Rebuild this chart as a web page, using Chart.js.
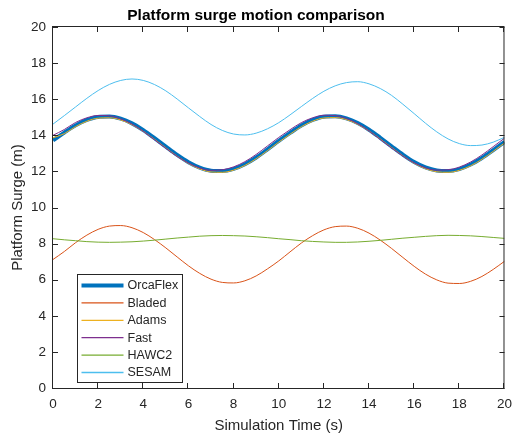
<!DOCTYPE html>
<html>
<head>
<meta charset="utf-8">
<title>Platform surge motion comparison</title>
<script src="https://cdn.jsdelivr.net/npm/chart.js@4.4.1/dist/chart.umd.min.js"></script>
<style>
    html, body { margin: 0; padding: 0; background: #fff; }
    #wrap { width: 520px; height: 439px; }
</style>
</head>
<body>
<div id="wrap"><canvas id="surgeChart" width="520" height="439"></canvas></div>
<script>
// simulation time (s)
const timeSteps = [0, 0.5, 1, 1.5, 2, 2.5, 3, 3.5, 4, 4.5, 5, 5.5, 6, 6.5, 7, 7.5, 8, 8.5, 9, 9.5,
    10, 10.5, 11, 11.5, 12, 12.5, 13, 13.5, 14, 14.5, 15, 15.5, 16, 16.5, 17, 17.5, 18, 18.5, 19, 19.5, 20];

// platform surge (m)
const orcaflexSurge = [13.72, 14.15, 14.55, 14.85, 15.02, 15.04, 14.92, 14.66, 14.29, 13.84, 13.37, 12.91, 12.51, 12.21, 12.04, 12.02, 12.14, 12.40, 12.77, 13.22,
    13.69, 14.13, 14.54, 14.85, 15.03, 15.05, 14.94, 14.68, 14.31, 13.86, 13.39, 12.93, 12.52, 12.22, 12.05, 12.02, 12.13, 12.38, 12.74, 13.18, 13.64];
const bladedSurge = [7.12, 7.56, 8.05, 8.47, 8.79, 8.97, 9.00, 8.88, 8.61, 8.22, 7.76, 7.26, 6.77, 6.35, 6.03, 5.85, 5.82, 5.94, 6.21, 6.60,
    7.04, 7.54, 8.03, 8.44, 8.76, 8.94, 8.97, 8.85, 8.58, 8.19, 7.73, 7.23, 6.74, 6.31, 5.99, 5.81, 5.79, 5.91, 6.18, 6.57, 7.02];
const adamsSurge = [13.86, 14.09, 14.48, 14.78, 14.95, 14.97, 14.85, 14.59, 14.22, 13.77, 13.30, 12.84, 12.44, 12.14, 11.97, 11.95, 12.07, 12.33, 12.70, 13.15,
    13.62, 14.06, 14.47, 14.78, 14.96, 14.98, 14.87, 14.61, 14.24, 13.79, 13.32, 12.86, 12.45, 12.15, 11.98, 11.95, 12.06, 12.31, 12.67, 13.11, 13.57];
const fastSurge = [14.00, 14.32, 14.71, 14.97, 15.10, 15.08, 14.91, 14.62, 14.22, 13.75, 13.28, 12.83, 12.46, 12.19, 12.06, 12.09, 12.25, 12.54, 12.94, 13.41,
    13.88, 14.31, 14.70, 14.97, 15.11, 15.09, 14.93, 14.64, 14.24, 13.77, 13.30, 12.85, 12.47, 12.20, 12.07, 12.09, 12.24, 12.52, 12.91, 13.37, 13.84];
const hawc2Surge = [8.27, 8.21, 8.16, 8.11, 8.08, 8.07, 8.08, 8.10, 8.14, 8.19, 8.25, 8.31, 8.36, 8.41, 8.44, 8.45, 8.44, 8.42, 8.38, 8.33,
    8.27, 8.22, 8.16, 8.12, 8.09, 8.07, 8.07, 8.09, 8.13, 8.18, 8.24, 8.30, 8.35, 8.40, 8.44, 8.46, 8.45, 8.43, 8.39, 8.34, 8.29];
const sesamSurge = [14.62, 15.09, 15.57, 16.05, 16.48, 16.82, 17.04, 17.12, 17.04, 16.81, 16.46, 16.01, 15.52, 15.04, 14.60, 14.27, 14.07, 14.02, 14.12, 14.36,
    14.70, 15.13, 15.59, 16.04, 16.44, 16.74, 16.92, 16.97, 16.85, 16.59, 16.21, 15.72, 15.20, 14.67, 14.19, 13.80, 13.54, 13.43, 13.46, 13.62, 13.89];

const seriesNames = ['OrcaFlex', 'Bladed', 'Adams', 'Fast', 'HAWC2', 'SESAM'];
const seriesValues = [orcaflexSurge, bladedSurge, adamsSurge, fastSurge, hawc2Surge, sesamSurge];
const seriesColors = ['#0072BD', '#D95319', '#EDB120', '#7E2F8E', '#77AC30', '#4DBEEE'];
const seriesWidths = [4, 1, 1, 1, 1, 1];

const xTickValues = [0, 2, 4, 6, 8, 10, 12, 14, 16, 18, 20];
const yTickValues = [0, 2, 4, 6, 8, 10, 12, 14, 16, 18, 20];

const FONT = "'Liberation Sans', Arial, Helvetica, sans-serif";
const INK = '#262626';

// MATLAB-ish box with inward tick marks on all four sides
const axesBoxPlugin = {
    id: 'axesBox',
    afterDraw(chart) {
        const { ctx, chartArea: a, scales } = chart;
        const tickLen = 5;
        ctx.save();
        ctx.strokeStyle = INK;
        ctx.lineWidth = 1;
        ctx.beginPath();
        xTickValues.forEach(v => {
            const px = Math.round(scales.x.getPixelForValue(v)) - 0.5;
            ctx.moveTo(px, a.bottom);
            ctx.lineTo(px, a.bottom - tickLen);
            ctx.moveTo(px, a.top);
            ctx.lineTo(px, a.top + tickLen);
        });
        yTickValues.forEach(v => {
            const py = Math.round(scales.y.getPixelForValue(v)) + 0.5;
            ctx.moveTo(a.left, py);
            ctx.lineTo(a.left + tickLen, py);
            ctx.moveTo(a.right, py);
            ctx.lineTo(a.right - tickLen, py);
        });
        ctx.stroke();
        ctx.strokeRect(a.left - 0.5, a.top - 0.5, a.right - a.left, a.bottom - a.top + 1);
        ctx.restore();
    }
};

// legend box in the lower left corner of the axes
const insetLegendPlugin = {
    id: 'insetLegend',
    afterDraw(chart) {
        const { ctx, chartArea: a } = chart;
        const boxX = a.left + 24.5;
        const boxY = a.bottom - 113.5;
        const boxW = 105;
        const boxH = 108;
        const rowGap = 17.4;
        ctx.save();
        ctx.fillStyle = '#fff';
        ctx.fillRect(boxX, boxY, boxW, boxH);
        ctx.strokeStyle = INK;
        ctx.lineWidth = 1;
        ctx.strokeRect(boxX, boxY, boxW, boxH);
        ctx.font = '12.5px ' + FONT;
        ctx.textBaseline = 'middle';
        ctx.fillStyle = INK;
        chart.data.datasets.forEach((ds, i) => {
            const y = boxY + 11 + i * rowGap;
            ctx.beginPath();
            ctx.strokeStyle = ds.borderColor;
            ctx.lineWidth = i === 0 ? 4 : 1.3;
            ctx.moveTo(boxX + 4, y);
            ctx.lineTo(boxX + 46, y);
            ctx.stroke();
            ctx.fillText(ds.label, boxX + 50, y + 0.5);
        });
        ctx.restore();
    }
};

const datasets = seriesNames.map((name, i) => ({
    label: name,
    data: timeSteps.map((t, k) => ({ x: t, y: seriesValues[i][k] })),
    borderColor: seriesColors[i],
    backgroundColor: seriesColors[i],
    borderWidth: seriesWidths[i],
    pointRadius: 0,
    cubicInterpolationMode: 'monotone',
    fill: false,
    order: seriesNames.length - i
}));

new Chart(document.getElementById('surgeChart'), {
    type: 'line',
    data: { datasets },
    options: {
        responsive: false,
        animation: false,
        devicePixelRatio: 1,
        layout: { padding: { top: 0, left: 0, right: 8, bottom: 0 } },
        plugins: {
            legend: { display: false },
            tooltip: { enabled: false },
            title: {
                display: true,
                text: 'Platform surge motion comparison',
                color: '#000',
                font: { family: FONT, size: 15.5, weight: 'bold', lineHeight: 1.2 },
                padding: { top: 6.5, bottom: 1.9 }
            }
        },
        scales: {
            x: {
                type: 'linear',
                min: 0,
                max: 20,
                afterFit(scale) { scale.height = 51; },
                afterBuildTicks(scale) { scale.ticks = xTickValues.map(v => ({ value: v })); },
                ticks: {
                    color: INK,
                    font: { family: FONT, size: 13.5 },
                    padding: 8,
                    maxRotation: 0,
                    autoSkip: false
                },
                grid: { display: false, drawTicks: false },
                border: { display: false },
                title: {
                    display: true,
                    text: 'Simulation Time (s)',
                    color: INK,
                    font: { family: FONT, size: 15, lineHeight: 1.2 },
                    padding: { top: 0, bottom: 4.5 }
                }
            },
            y: {
                type: 'linear',
                min: 0,
                max: 20,
                afterFit(scale) { scale.width = 53; },
                afterBuildTicks(scale) { scale.ticks = yTickValues.map(v => ({ value: v })); },
                ticks: {
                    color: INK,
                    font: { family: FONT, size: 13.5 },
                    padding: 7,
                    autoSkip: false
                },
                grid: { display: false, drawTicks: false },
                border: { display: false },
                title: {
                    display: true,
                    text: 'Platform Surge (m)',
                    color: INK,
                    font: { family: FONT, size: 15, lineHeight: 1.2 },
                    padding: { top: 9, bottom: 0 }
                }
            }
        }
    },
    plugins: [axesBoxPlugin, insetLegendPlugin]
});
</script>
</body>
</html>
